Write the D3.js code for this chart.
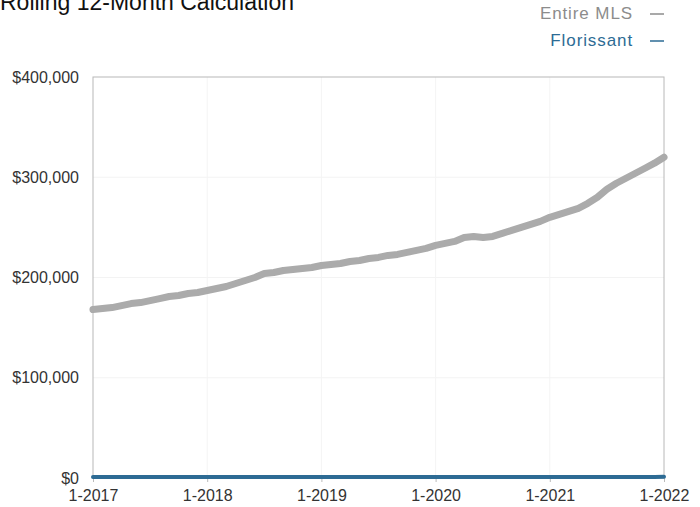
<!DOCTYPE html>
<html>
<head>
<meta charset="utf-8">
<script src="https://cdn.jsdelivr.net/npm/d3@7"></script>
<style>
  body { margin: 0; background: #fff; }
  text { font-family: 'Liberation Sans', Arial, sans-serif; }
</style>
</head>
<body>
<div id="chart"></div>
<script>
const margin = { top: 77, left: 93, right: 36, bottom: 29 }
const width = 700 - margin.left - margin.right
const height = 507 - margin.top - margin.bottom

const title = 'Rolling 12-Month Calculation'
const seriesNames = ['Entire MLS', 'Florissant']
const yTicks = [0, 100000, 200000, 300000, 400000]
const xTickLabels = ['1-2017', '1-2018', '1-2019', '1-2020', '1-2021', '1-2022']

// monthly, 1-2017 .. 1-2022
const entireMLS = [
  168000, 169000, 170000, 172000, 174000, 175000, 177000, 179000, 181000, 182000, 184000, 185000, 187000,
  189000, 191000, 194000, 197000, 200000, 204000, 205000, 207000, 208000, 209000, 210000, 212000,
  213000, 214000, 216000, 217000, 219000, 220000, 222000, 223000, 225000, 227000, 229000, 232000,
  234000, 236000, 240000, 241000, 240000, 241000, 244000, 247000, 250000, 253000, 256000, 260000,
  263000, 266000, 269000, 274000, 280000, 288000, 294000, 299000, 304000, 309000, 314000, 320000
]
const florissant = [
  1000, 1000, 1000, 1000, 1000, 1000, 1000, 1000, 1000, 1000, 1000, 1000, 1000,
  1000, 1000, 1000, 1000, 1000, 1000, 1000, 1000, 1000, 1000, 1000, 1000,
  1000, 1000, 1000, 1000, 1000, 1000, 1000, 1000, 1000, 1000, 1000, 1000,
  1000, 1000, 1000, 1000, 1000, 1000, 1000, 1000, 1000, 1000, 1000, 1000,
  1000, 1000, 1000, 1000, 1000, 1000, 1000, 1000, 1000, 1000, 1000, 1200
]

const colors = { mls: '#ababab', flor: '#2d6b94' }

const svg = d3.select('#chart')
  .append('svg')
  .attr('width', 700)
  .attr('height', 507)

// title sits partly above the top edge, as in the scan
svg.append('text')
  .text(title)
  .attr('x', 0)
  .attr('y', 10)
  .attr('font-size', 23)
  .attr('fill', '#111')

// legend
const legend = svg.append('g')
const legendItems = legend.selectAll('g')
  .data([
    { name: seriesNames[0], color: '#8c8c8c', y: 19 },
    { name: seriesNames[1], color: colors.flor, y: 46 }
  ])
  .enter()
  .append('g')

legendItems.append('text')
  .attr('x', 633)
  .attr('y', d => d.y)
  .attr('text-anchor', 'end')
  .attr('font-size', 17)
  .attr('letter-spacing', 0.9)
  .attr('fill', d => d.color)
  .text(d => d.name)

legendItems.append('line')
  .attr('x1', 650)
  .attr('x2', 664)
  .attr('y1', d => d.y - 5)
  .attr('y2', d => d.y - 5)
  .attr('stroke', d => d.color)
  .attr('stroke-width', 1.5)

const g = svg.append('g')
  .attr('transform', `translate(${margin.left},${margin.top})`)

const x = d3.scaleLinear()
  .domain([0, entireMLS.length - 1])
  .range([0, width])

const y = d3.scaleLinear()
  .domain([0, 400000])
  .range([height, 0])

// faint grid
g.append('g')
  .selectAll('line')
  .data(yTicks.slice(1, -1))
  .enter()
  .append('line')
  .attr('x1', 0)
  .attr('x2', width)
  .attr('y1', d => y(d))
  .attr('y2', d => y(d))
  .attr('stroke', '#f3f3f3')

g.append('g')
  .selectAll('line')
  .data(xTickLabels.slice(1, -1))
  .enter()
  .append('line')
  .attr('x1', (d, i) => x((i + 1) * 12))
  .attr('x2', (d, i) => x((i + 1) * 12))
  .attr('y1', 0)
  .attr('y2', height)
  .attr('stroke', '#f4f4f4')

// frame
g.append('rect')
  .attr('width', width)
  .attr('height', height)
  .attr('fill', 'none')
  .attr('stroke', '#b8b8b8')
  .attr('stroke-width', 1)

// y axis
const yAxis = g.append('g')
  .call(d3.axisLeft(y)
    .tickValues(yTicks)
    .tickSize(0)
    .tickPadding(14)
    .tickFormat(d => '$' + d3.format(',')(d)))
yAxis.select('.domain').remove()
yAxis.selectAll('text')
  .attr('font-size', 16)
  .attr('fill', '#333')
  .style('font-family', "'Liberation Sans', Arial, sans-serif")

// x axis
const xAxis = g.append('g')
  .attr('transform', `translate(0,${height})`)
  .call(d3.axisBottom(x)
    .tickValues(xTickLabels.map((d, i) => i * 12))
    .tickSize(4)
    .tickPadding(8)
    .tickFormat((d, i) => xTickLabels[i]))
xAxis.select('.domain').remove()
xAxis.selectAll('line').attr('stroke', '#bbb')
xAxis.selectAll('text')
  .attr('font-size', 16)
  .attr('fill', '#333')
  .style('font-family', "'Liberation Sans', Arial, sans-serif")

const line = d3.line()
  .x((d, i) => x(i))
  .y(d => y(d))

g.append('path')
  .datum(entireMLS)
  .attr('d', line)
  .attr('fill', 'none')
  .attr('stroke', colors.mls)
  .attr('stroke-width', 7)
  .attr('stroke-linejoin', 'round')
  .attr('stroke-linecap', 'round')

g.append('path')
  .datum(florissant)
  .attr('d', line)
  .attr('fill', 'none')
  .attr('stroke', colors.flor)
  .attr('stroke-width', 4)
  .attr('stroke-linecap', 'round')
</script>
</body>
</html>
